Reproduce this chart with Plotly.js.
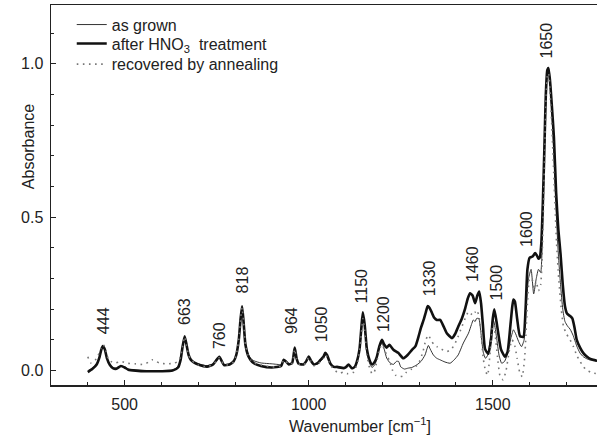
<!DOCTYPE html>
<html>
<head>
<meta charset="utf-8">
<script src="https://cdn.plot.ly/plotly-3.0.1.min.js"></script>
<style>html,body{margin:0;padding:0;background:#fff;}#chart{width:597px;height:439px;}</style>
</head>
<body>
<div id="chart"></div>
<script>
// ---- data ----
var seriesNames = ["as grown", "after HNO<sub>3</sub>  treatment", "recovered by annealing"];

var wnTreated = [400,412,424,432,437,441,446,452,460,468,478,490,500,510,530,560,600,630,645,652,657,663,668,674,680,688,700,724,740,748,757,764,770,785,796,803,810,815,819,823,828,835,842,851,870,900,925,932,938,946,955,962,967,973,986,993,1000,1006,1014,1025,1032,1040,1045,1050,1059,1068,1077,1095,1102,1108,1117,1125,1131,1138,1143,1147,1152,1158,1165,1172,1180,1185,1192,1199,1205,1212,1219,1230,1243,1257,1268,1280,1290,1298,1305,1312,1318,1323,1328,1334,1341,1348,1357,1366,1375,1389,1398,1406,1416,1425,1432,1438,1445,1452,1458,1463,1468,1473,1479,1488,1495,1500,1504,1510,1515,1522,1533,1540,1548,1553,1556,1560,1566,1574,1583,1589,1594,1600,1608,1615,1620,1624,1628,1632,1636,1640,1644,1648,1651,1655,1660,1666,1672,1678,1684,1690,1696,1702,1710,1716,1722,1728,1737,1746,1756,1765,1773,1783];
var absTreated = [-0.005,0.005,0.02,0.045,0.07,0.08,0.07,0.04,0.018,0.008,0.006,0.015,0.01,0.003,0.0,-0.002,-0.002,0.0,0.01,0.035,0.075,0.112,0.085,0.05,0.035,0.027,0.02,0.013,0.02,0.032,0.045,0.03,0.018,0.02,0.03,0.05,0.1,0.17,0.21,0.16,0.085,0.05,0.035,0.024,0.015,0.01,0.015,0.035,0.03,0.02,0.025,0.075,0.04,0.022,0.02,0.03,0.046,0.032,0.02,0.025,0.035,0.045,0.058,0.05,0.022,0.012,0.012,0.008,0.012,0.02,0.008,0.012,0.03,0.07,0.14,0.19,0.15,0.07,0.035,0.02,0.03,0.045,0.08,0.1,0.085,0.075,0.084,0.068,0.058,0.04,0.05,0.067,0.08,0.11,0.14,0.165,0.19,0.21,0.205,0.19,0.172,0.165,0.165,0.145,0.122,0.106,0.12,0.143,0.17,0.203,0.235,0.252,0.245,0.22,0.245,0.258,0.22,0.15,0.07,0.055,0.1,0.17,0.2,0.16,0.12,0.07,0.045,0.06,0.15,0.21,0.232,0.225,0.17,0.112,0.11,0.2,0.33,0.368,0.372,0.383,0.375,0.365,0.37,0.42,0.55,0.72,0.9,0.98,0.986,0.95,0.87,0.76,0.58,0.46,0.38,0.28,0.21,0.185,0.178,0.17,0.14,0.1,0.075,0.057,0.045,0.038,0.035,0.032];

var wnGrown = [400,412,424,432,437,441,446,452,460,468,478,490,500,510,530,560,600,630,645,652,657,663,668,674,680,688,700,724,740,748,757,764,770,785,796,803,810,815,819,823,828,835,842,851,870,900,925,932,938,946,955,962,967,973,986,993,1000,1006,1014,1025,1032,1040,1045,1050,1059,1068,1077,1095,1102,1108,1117,1125,1131,1138,1143,1147,1152,1158,1165,1172,1180,1185,1192,1199,1205,1212,1221,1230,1238,1244,1250,1260,1270,1280,1294,1305,1316,1321,1325,1330,1339,1348,1357,1370,1384,1395,1406,1420,1434,1442,1447,1452,1456,1462,1468,1474,1480,1486,1493,1500,1504,1510,1517,1524,1532,1540,1548,1556,1562,1570,1578,1585,1590,1597,1604,1611,1618,1624,1630,1635,1640,1644,1648,1651,1655,1660,1666,1672,1678,1684,1690,1696,1703,1710,1718,1728,1737,1746,1756,1765,1773,1783];
var absGrown = [0.0,0.008,0.022,0.045,0.068,0.078,0.068,0.04,0.02,0.01,0.008,0.016,0.012,0.005,0.002,0.0,0.0,0.002,0.012,0.035,0.072,0.108,0.082,0.05,0.036,0.028,0.022,0.016,0.022,0.032,0.042,0.03,0.02,0.022,0.03,0.05,0.1,0.165,0.205,0.16,0.09,0.055,0.04,0.032,0.025,0.022,0.02,0.03,0.03,0.022,0.025,0.07,0.04,0.022,0.02,0.03,0.044,0.03,0.02,0.022,0.03,0.04,0.05,0.045,0.02,0.012,0.01,0.008,0.012,0.018,0.008,0.012,0.028,0.065,0.13,0.18,0.14,0.06,0.025,0.01,0.02,0.04,0.075,0.09,0.07,0.04,0.025,0.02,0.03,0.03,0.012,0.005,0.008,0.01,0.019,0.03,0.051,0.07,0.082,0.07,0.05,0.04,0.035,0.028,0.024,0.035,0.051,0.09,0.122,0.15,0.165,0.16,0.17,0.17,0.12,0.06,0.04,0.05,0.1,0.168,0.155,0.11,0.05,0.024,0.03,0.055,0.1,0.133,0.12,0.095,0.078,0.1,0.2,0.3,0.33,0.25,0.3,0.33,0.32,0.45,0.7,0.88,0.98,0.99,0.95,0.85,0.7,0.52,0.38,0.28,0.2,0.16,0.145,0.135,0.115,0.08,0.057,0.045,0.038,0.034,0.032,0.03];

var wnAnnealed = [400,408,418,428,436,442,448,455,462,475,490,507,530,552,565,575,585,597,615,634,645,652,657,663,668,674,680,690,700,724,740,748,757,764,770,785,796,803,810,815,819,823,828,835,842,851,870,900,925,932,938,946,955,962,967,973,986,993,1000,1006,1014,1025,1032,1040,1045,1050,1059,1068,1077,1086,1095,1105,1114,1122,1131,1138,1143,1147,1152,1158,1165,1172,1178,1185,1192,1199,1205,1212,1220,1228,1236,1245,1255,1266,1280,1297,1310,1318,1325,1332,1340,1348,1360,1375,1388,1402,1415,1425,1434,1441,1447,1452,1456,1462,1468,1474,1480,1486,1492,1499,1503,1508,1514,1520,1528,1536,1544,1552,1558,1566,1573,1580,1587,1594,1600,1606,1612,1618,1624,1630,1636,1641,1645,1649,1652,1656,1661,1667,1673,1679,1686,1692,1700,1710,1719,1728,1737,1746,1756,1765,1773,1783];
var absAnnealed = [0.045,0.025,0.03,0.05,0.072,0.085,0.07,0.04,0.03,0.025,0.03,0.024,0.022,0.02,0.028,0.035,0.03,0.024,0.022,0.024,0.03,0.045,0.075,0.11,0.085,0.05,0.035,0.025,0.018,0.013,0.02,0.03,0.042,0.03,0.018,0.02,0.028,0.05,0.1,0.17,0.205,0.16,0.085,0.05,0.035,0.025,0.018,0.012,0.015,0.035,0.03,0.02,0.025,0.07,0.04,0.022,0.018,0.028,0.044,0.03,0.016,0.02,0.03,0.04,0.052,0.045,0.018,0.005,-0.005,-0.008,-0.005,-0.01,-0.01,-0.005,0.02,0.06,0.12,0.17,0.13,0.05,0.01,-0.01,-0.005,0.03,0.07,0.085,0.07,0.05,0.03,0.0,-0.015,-0.02,-0.018,-0.005,0.005,0.02,0.06,0.1,0.116,0.1,0.085,0.078,0.07,0.062,0.07,0.1,0.14,0.17,0.192,0.185,0.18,0.19,0.198,0.18,0.12,0.04,0.0,-0.015,0.05,0.14,0.15,0.1,0.03,-0.02,-0.03,0.0,0.06,0.1,0.09,0.04,-0.005,-0.02,0.05,0.22,0.3,0.3,0.27,0.29,0.26,0.28,0.45,0.72,0.9,0.97,0.965,0.9,0.78,0.6,0.42,0.3,0.2,0.143,0.12,0.1,0.078,0.05,0.03,0.013,0.0,-0.005,-0.008,-0.01];

var peakLabels = ["444","663","760","818","964","1050","1150","1200","1330","1460","1500","1600","1650"];
var peakLabelX = [443,663,756,819,953,1033,1142,1201,1328,1443,1511,1592,1646];
var peakLabelY = [0.116,0.146,0.068,0.247,0.116,0.089,0.214,0.122,0.241,0.285,0.225,0.399,1.013];

var xTitle = "Wavenumber [cm<sup>−1</sup>]";
var yTitle = "Absorbance";

// ---- chart ----
var FONT = "Liberation Sans, Arial, sans-serif";
var TXT = "#222";

var traces = [
  {x: wnGrown, y: absGrown, name: seriesNames[0], mode: "lines", legend: "legend",
   line: {color: "#333", width: 1, shape: "spline", smoothing: 0.5}},
  {x: wnTreated, y: absTreated, name: seriesNames[1], mode: "lines", legend: "legend2",
   line: {color: "#111", width: 2.6, shape: "spline", smoothing: 0.5}},
  {x: wnAnnealed, y: absAnnealed, name: seriesNames[2], mode: "lines", legend: "legend3",
   line: {color: "#777", width: 1.6, dash: "1.6px,4.5px", shape: "spline", smoothing: 0.5}}
];

var annotations = peakLabels.map(function (t, i) {
  return {text: t, x: peakLabelX[i], y: peakLabelY[i], xref: "x", yref: "y",
          textangle: -90, xanchor: "center", yanchor: "bottom", showarrow: false,
          font: {family: FONT, size: 16, color: TXT}, borderpad: 0};
});
annotations.push({text: yTitle, xref: "paper", yref: "paper", x: -0.042, y: 0.626,
  textangle: -90, showarrow: false, xanchor: "center", yanchor: "middle",
  font: {family: FONT, size: 16, color: TXT}});
annotations.push({text: xTitle, xref: "paper", yref: "paper", x: 0.566, y: -0.105,
  showarrow: false, xanchor: "center", yanchor: "middle",
  font: {family: FONT, size: 16, color: TXT}});

function legendAt(y) {
  return {x: 0.038, y: y, xanchor: "left", yanchor: "top", bgcolor: "rgba(0,0,0,0)",
          font: {family: FONT, size: 16, color: TXT}};
}

var layout = {
  width: 597, height: 439,
  margin: {l: 51, r: 0, t: 5, b: 54, pad: 0},
  paper_bgcolor: "#fff", plot_bgcolor: "#fff",
  font: {family: FONT, size: 16, color: TXT},
  showlegend: true,
  legend: legendAt(0.993),
  legend2: legendAt(0.943),
  legend3: legendAt(0.889),
  xaxis: {range: [300, 1783], tick0: 0, dtick: 500, ticks: "inside", ticklen: 5, tickwidth: 1,
          tickcolor: "#222", showline: true, linecolor: "#222", linewidth: 1.5, mirror: true,
          showgrid: false, zeroline: false, tickfont: {family: FONT, size: 16, color: TXT},
          ticklabelstandoff: 4,
          minor: {dtick: 100, ticks: "inside", ticklen: 3, tickwidth: 1, tickcolor: "#222", showgrid: false}},
  yaxis: {range: [-0.047, 1.192], tick0: 0, dtick: 0.5, tickformat: ".1f", ticks: "inside", ticklen: 5,
          tickwidth: 1, tickcolor: "#222", showline: true, linecolor: "#222", linewidth: 1.5, mirror: false,
          showgrid: false, zeroline: false, tickfont: {family: FONT, size: 16, color: TXT},
          ticklabelstandoff: 3,
          minor: {dtick: 0.1, ticks: "inside", ticklen: 3, tickwidth: 1, tickcolor: "#222", showgrid: false}},
  annotations: annotations
};

Plotly.newPlot("chart", traces, layout, {staticPlot: true, displayModeBar: false});
</script>
</body>
</html>
